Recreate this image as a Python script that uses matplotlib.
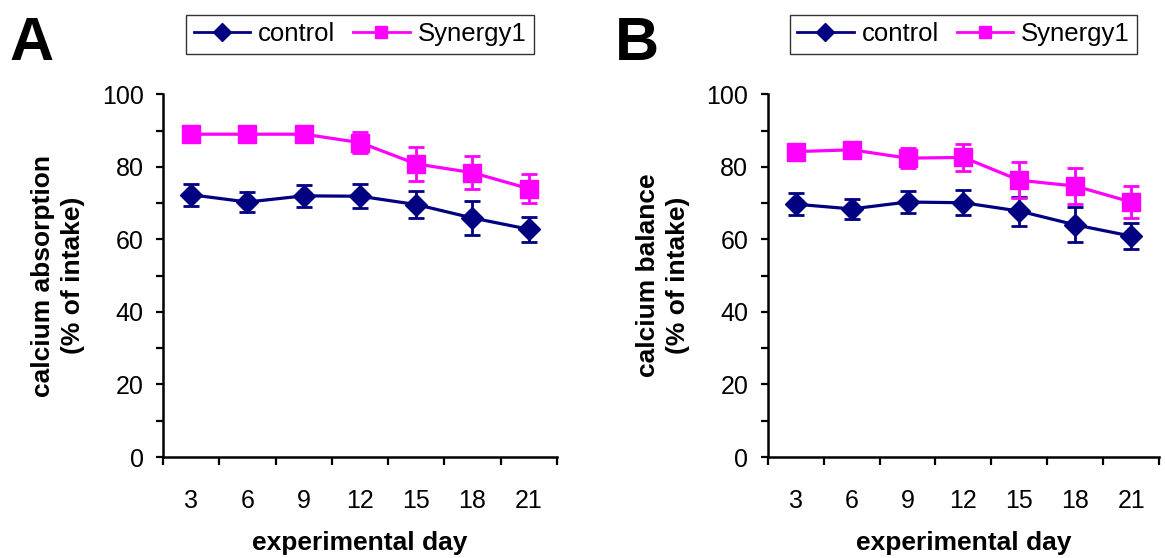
import numpy as np
import matplotlib
matplotlib.use("Agg")
import matplotlib.pyplot as plt
from matplotlib.ticker import FixedLocator, NullFormatter
from matplotlib.lines import Line2D

plt.rcParams['font.family'] = ['Liberation Sans', 'DejaVu Sans']

days = ["3", "6", "9", "12", "15", "18", "21"]

# panel A: calcium absorption
control_abs = [72.3, 70.3, 72.0, 71.9, 69.6, 65.9, 62.8]
control_abs_err = [3.1, 2.8, 3.0, 3.3, 3.8, 4.7, 3.4]
synergy_abs = [89.0, 89.0, 89.0, 86.7, 80.8, 78.4, 74.0]
synergy_abs_err = [1.5, 1.0, 1.0, 2.9, 4.7, 4.5, 3.9]

# panel B: calcium balance
control_bal = [69.7, 68.4, 70.3, 70.1, 67.8, 64.0, 60.9]
control_bal_err = [3.0, 2.8, 3.0, 3.5, 4.0, 4.8, 3.5]
synergy_bal = [84.2, 84.7, 82.4, 82.6, 76.3, 74.7, 70.3]
synergy_bal_err = [1.5, 1.5, 2.8, 3.8, 5.0, 4.9, 4.3]

navy = "#000080"
magenta = "#FF00FF"


def draw_panel(ax, control, control_err, synergy, synergy_err, ylabel):
    x = np.arange(len(days))
    ax.errorbar(x, control, yerr=control_err, fmt="none", ecolor=navy,
                elinewidth=2, capsize=6, capthick=2)
    ax.errorbar(x, synergy, yerr=synergy_err, fmt="none", ecolor=magenta,
                elinewidth=2, capsize=6, capthick=2)
    ax.plot(x, control, color=navy, marker="D", markersize=11, linewidth=2.3)
    ax.plot(x, synergy, color=magenta, marker="s", markersize=12.5, linewidth=2.3)

    ax.set_xlim(-0.5, len(days) - 0.5)
    ax.set_ylim(0, 100)

    # excel-like category axis: ticks between categories, labels in the middle
    ax.xaxis.set_major_locator(FixedLocator(np.arange(-0.5, len(days), 1.0)))
    ax.xaxis.set_major_formatter(NullFormatter())
    ax.xaxis.set_minor_locator(FixedLocator(x))
    ax.set_xticklabels(days, minor=True)
    ax.tick_params(axis="x", which="major", length=6, width=1.6, direction="out")
    ax.tick_params(axis="x", which="minor", length=0, pad=23, labelsize=18)

    ax.set_yticks(np.arange(0, 101, 10))
    ax.set_yticklabels([str(v) if v % 20 == 0 else "" for v in range(0, 101, 10)])
    ax.tick_params(axis="y", length=5, width=1.6, direction="out", pad=9, labelsize=18)

    for side in ["top", "right"]:
        ax.spines[side].set_visible(False)
    for side in ["left", "bottom"]:
        ax.spines[side].set_linewidth(1.8)

    ax.set_xlabel("experimental day", fontsize=19, fontweight="bold", labelpad=13)
    ax.set_ylabel(ylabel, fontsize=19, fontweight="bold", labelpad=12, linespacing=1.3)

    handles = [Line2D([], [], color=navy, marker="D", markersize=9, linewidth=2),
               Line2D([], [], color=magenta, marker="s", markersize=9, linewidth=2)]
    leg = ax.legend(handles, ["control", "Synergy1"], loc="center",
                    bbox_to_anchor=(0.5, 1.165), ncol=2, fontsize=18.5,
                    frameon=True, fancybox=False, handlelength=2.2, handletextpad=0.3,
                    columnspacing=0.7, borderpad=0.3)
    leg.get_frame().set_edgecolor("black")
    leg.get_frame().set_linewidth(1.0)


fig = plt.figure(figsize=(11.65, 5.58), dpi=100)
ax_a = fig.add_axes([0.140, 0.181, 0.338, 0.650])
ax_b = fig.add_axes([0.659, 0.181, 0.336, 0.650])

draw_panel(ax_a, control_abs, control_abs_err, synergy_abs, synergy_abs_err,
           "calcium absorption\n(% of intake)")
draw_panel(ax_b, control_bal, control_bal_err, synergy_bal, synergy_bal_err,
           "calcium balance\n(% of intake)")

fig.text(0.008, 0.92, "A", fontsize=44, fontweight="bold", va="center")
fig.text(0.528, 0.92, "B", fontsize=44, fontweight="bold", va="center")

fig.savefig("out.png", dpi=100)
